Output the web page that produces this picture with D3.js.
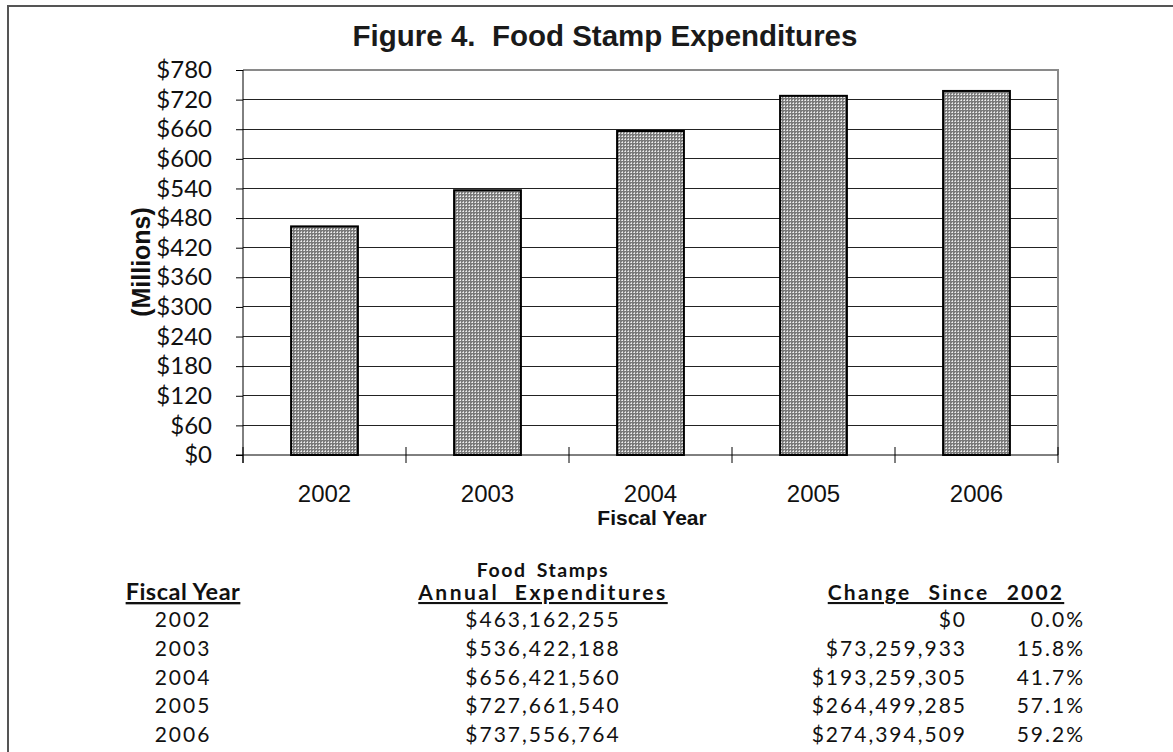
<!DOCTYPE html>
<html><head><meta charset="utf-8">
<script src="https://cdn.jsdelivr.net/npm/d3@7"></script>
<style>
html,body{margin:0;padding:0;background:#fff;}
svg{display:block;}
</style></head>
<body>
<svg id="chart" width="1173" height="752"></svg>
<script>
// ---- data ----
const years = ["2002","2003","2004","2005","2006"];
const expendituresMillions = [463.162255, 536.422188, 656.421560, 727.661540, 737.556764];
const yTicks = [0,60,120,180,240,300,360,420,480,540,600,660,720,780];
const expenditureLabels = ["$463,162,255","$536,422,188","$656,421,560","$727,661,540","$737,556,764"];
const changeLabels = ["$0","$73,259,933","$193,259,305","$264,499,285","$274,394,509"];
const pctLabels = ["0.0%","15.8%","41.7%","57.1%","59.2%"];

const svg = d3.select("#chart");
const sansFont = "Lato, 'Open Sans', sans-serif";
const narrowFont = "'Liberation Sans Narrow', 'Arial Narrow', 'Liberation Sans', sans-serif";

// pattern
const defs = svg.append("defs");
const pat = defs.append("pattern").attr("id","stipple").attr("patternUnits","userSpaceOnUse")
  .attr("width",3).attr("height",3);
pat.append("rect").attr("width",3).attr("height",3).attr("fill","#7a7a7a");
pat.append("rect").attr("x",1).attr("y",1).attr("width",1).attr("height",1).attr("fill","#f0f0f0");
pat.append("rect").attr("x",0).attr("y",1).attr("width",1).attr("height",1).attr("fill","#c8c8c8");
pat.append("rect").attr("x",1).attr("y",0).attr("width",1).attr("height",1).attr("fill","#c8c8c8");

// outer border
svg.append("rect").attr("x",8).attr("y",6).attr("width",1300).attr("height",900)
  .attr("fill","none").attr("stroke","#555").attr("stroke-width",2);

// plot area
const L = 243, R = 1058, T = 70, B = 455;
const x = d3.scaleBand().domain(years).range([L, R]).padding(0);
const y = d3.scaleLinear().domain([0, 780]).range([B, T]);

// gridlines
svg.append("g").selectAll("line").data(yTicks.filter(d => d > 0 && d < 780)).join("line")
  .attr("x1", L).attr("x2", R).attr("y1", d => y(d)).attr("y2", d => y(d))
  .attr("stroke", "#222").attr("stroke-width", 1).attr("shape-rendering","crispEdges");

// plot border top & right
svg.append("path").attr("d", `M${L},${y(780)}H${R}V${B}`).attr("fill","none")
  .attr("stroke","#8a8a8a").attr("stroke-width",2);

// bars
const barW = x.bandwidth() * 0.41;
svg.append("g").selectAll("rect").data(years).join("rect")
  .attr("x", (d) => x(d) + (x.bandwidth() - barW) / 2)
  .attr("y", (d, i) => y(expendituresMillions[i]))
  .attr("width", barW)
  .attr("height", (d, i) => y(0) - y(expendituresMillions[i]))
  .attr("fill", "url(#stipple)").attr("stroke", "#000").attr("stroke-width", 2);

// y axis
const yAxis = svg.append("g").attr("transform", `translate(${L},0)`)
  .call(d3.axisLeft(y).tickValues(yTicks).tickSize(7).tickPadding(24).tickFormat(d => "$" + d));
yAxis.select(".domain").attr("d", `M0,${T}V${B + 8}`).attr("stroke","#000");
yAxis.selectAll(".tick line").attr("stroke","#000");
yAxis.selectAll("text").attr("font-family", sansFont).attr("font-size", 24).attr("fill","#111");

// x axis
const xAxis = svg.append("g").attr("transform", `translate(0,${B})`)
  .call(d3.axisBottom(x).tickSize(0).tickPadding(30));
xAxis.select(".domain").attr("d", `M${L - 7},0H${R}`).attr("stroke","#000");
xAxis.selectAll("text").attr("font-family", narrowFont).attr("font-size", 24).attr("fill","#111");
// crossing ticks at band boundaries
const edges = years.map(d => x(d)).concat([R]);
svg.append("g").selectAll("line").data(edges).join("line")
  .attr("x1", d => d).attr("x2", d => d).attr("y1", B - 8).attr("y2", B + 8)
  .attr("stroke", "#000").attr("stroke-width", 1);

// title
svg.append("text").attr("x", 605).attr("y", 46).attr("text-anchor","middle")
  .attr("font-family", narrowFont).attr("font-weight","bold").attr("font-size", 29.5).attr("fill","#1a1a1a")
  .attr("xml:space","preserve")
  .text("Figure 4.  Food Stamp Expenditures");

// axis titles
svg.append("text").attr("transform", `translate(150,262) rotate(-90)`).attr("text-anchor","middle")
  .attr("font-family", narrowFont).attr("font-weight","bold").attr("font-size", 25).attr("fill","#111")
  .text("(Millions)");
svg.append("text").attr("x", 652).attr("y", 525).attr("text-anchor","middle")
  .attr("font-family", narrowFont).attr("font-weight","bold").attr("font-size", 21).attr("fill","#111")
  .text("Fiscal Year");

// table
const tableFont = sansFont;
const rowY = d3.scalePoint().domain(years).range([627, 742]);
svg.append("text").attr("x", 543).attr("y", 577).attr("text-anchor","middle")
  .attr("font-family", tableFont).attr("font-weight","bold").attr("font-size", 19.5)
  .attr("letter-spacing", 1.5).attr("word-spacing", 4).attr("fill","#111").text("Food Stamps");
const headers = [
  {t: "Fiscal Year", x: 183, ls: 0.5, ws: 0, fs: 23.5},
  {t: "Annual Expenditures", x: 543, ls: 2.5, ws: 8, fs: 21},
  {t: "Change Since 2002", x: 946, ls: 2.2, ws: 10, fs: 21}
];
svg.append("g").selectAll("text").data(headers).join("text")
  .attr("x", d => d.x).attr("y", 600).attr("text-anchor","middle")
  .attr("font-family", tableFont).attr("font-weight","bold").attr("font-size", d => d.fs)
  .attr("letter-spacing", d => d.ls).attr("word-spacing", d => d.ws)
  .attr("text-decoration","underline").attr("fill","#111")
  .text(d => d.t);

const rows = svg.append("g").attr("font-family", tableFont).attr("font-size", 21)
  .attr("letter-spacing", 2).attr("fill","#111");
rows.selectAll(".yr").data(years).join("text").attr("class","yr")
  .attr("x", 183).attr("y", d => rowY(d)).attr("text-anchor","middle").text(d => d);
rows.selectAll(".ex").data(years).join("text").attr("class","ex")
  .attr("x", 543).attr("y", d => rowY(d)).attr("text-anchor","middle").text((d,i) => expenditureLabels[i]);
rows.selectAll(".ch").data(years).join("text").attr("class","ch")
  .attr("x", 967).attr("y", d => rowY(d)).attr("text-anchor","end").text((d,i) => changeLabels[i]);
rows.selectAll(".pc").data(years).join("text").attr("class","pc")
  .attr("x", 1085).attr("y", d => rowY(d)).attr("text-anchor","end").text((d,i) => pctLabels[i]);
</script>
</body></html>
